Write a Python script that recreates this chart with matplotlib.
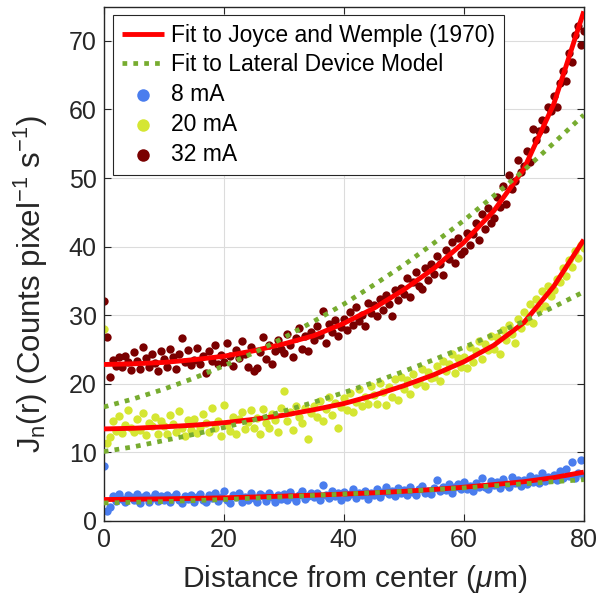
"""Radial emission profile J_n(r) for three drive currents with two model fits."""

import matplotlib
import matplotlib.pyplot as plt
import numpy as np

matplotlib.use("Agg")

plt.rcParams["font.family"] = ["Liberation Sans", "DejaVu Sans"]
plt.rcParams["mathtext.fontset"] = "custom"
plt.rcParams["mathtext.rm"] = "Liberation Sans"
plt.rcParams["mathtext.it"] = "Liberation Sans:italic"

# measured profiles, sampled every 0.5 um from 0 to 80 um
r_data = np.arange(161) * 0.5

j_8ma = [
    8.0, 1.5, 2.0, 3.6, 2.9, 3.9, 3.2, 2.7, 3.8, 3.4,
    3.0, 3.9, 2.6, 3.5, 3.8, 2.8, 3.3, 3.9, 2.9, 3.6,
    3.1, 3.7, 2.7, 3.4, 3.9, 3.0, 2.6, 3.6, 3.2, 3.8,
    2.8, 3.5, 3.9, 3.1, 2.7, 3.7, 3.3, 4.0, 2.9, 3.4,
    4.3, 3.0, 2.6, 3.8, 3.4, 4.1, 2.8, 3.5, 3.1, 4.0,
    3.3, 2.7, 3.9, 3.6, 2.9, 4.1, 3.4, 2.8, 3.7, 3.2,
    3.9, 3.0, 4.2, 3.5, 2.9, 3.8, 4.3, 3.2, 3.6, 4.0,
    3.4, 4.1, 3.0, 5.2, 3.7, 3.3, 4.4, 3.6, 4.0, 3.1,
    4.2, 3.5, 3.9, 4.6, 3.3, 4.0, 3.7, 4.4, 3.2, 4.1,
    3.8, 4.7, 3.5, 4.2, 5.0, 3.9, 4.4, 3.6, 4.8, 4.1,
    4.5, 3.8, 4.9, 4.2, 3.7, 4.6, 5.1, 4.0, 4.4, 3.9,
    4.8, 6.0, 4.3, 5.0, 4.5, 5.4, 4.1, 4.9, 5.3, 4.6,
    5.6, 4.7, 5.1, 4.4, 5.5, 4.9, 6.2, 5.0, 4.6, 5.8,
    5.2, 5.7, 4.8, 6.1, 5.4, 5.0, 6.4, 5.5, 5.9, 5.1,
    6.0, 5.4, 6.6, 5.7, 6.3, 5.5, 6.9, 5.8, 6.4, 6.1,
    6.7, 5.9, 7.2, 6.3, 7.5, 6.6, 8.6, 6.2, 7.0, 8.9,
    6.4,
]

j_20ma = [
    28.0, 11.4, 12.2, 14.6, 13.1, 15.3, 12.8, 14.0, 16.2, 13.5,
    12.9, 14.8, 13.3, 15.7, 12.5, 14.2, 13.8, 15.1, 12.7, 14.5,
    13.9, 12.6, 15.4, 14.1, 13.0, 16.0, 13.6, 12.4, 14.7, 13.2,
    14.9, 12.8, 13.7, 15.6, 14.3, 12.9, 16.4, 13.5, 14.6, 12.3,
    16.9, 14.0, 13.1, 15.2, 12.6, 14.8, 15.8, 13.4, 14.4, 16.1,
    13.6, 15.0, 12.7, 16.3, 14.2, 13.5, 15.6, 14.7, 12.9, 16.5,
    19.0, 14.6, 15.9, 13.3, 16.7, 15.2, 14.3, 16.4, 11.9, 15.7,
    16.8, 15.1, 17.5, 14.6, 16.3, 18.0, 15.5, 17.2, 13.6, 16.6,
    17.9, 16.2, 18.6, 15.8, 17.3, 19.2, 16.7, 18.1, 17.0, 19.6,
    18.4, 17.1, 20.1, 18.8, 16.9, 19.5, 18.0, 20.7, 17.6, 21.0,
    19.2, 20.6, 18.5, 21.4, 19.9, 20.3, 22.1, 19.6, 21.7, 20.8,
    21.0, 22.6, 20.4, 23.3, 21.8, 22.9, 24.4, 21.5, 23.8, 22.4,
    23.9, 22.3, 25.3, 23.1, 24.7, 26.2, 23.6, 25.8, 24.9, 27.0,
    25.1, 26.8, 24.4, 27.9, 26.3, 28.6, 27.2, 26.0, 29.4, 28.1,
    30.5, 29.1, 31.6, 28.8, 32.3, 30.9, 33.5, 31.4, 34.2, 32.8,
    33.6, 35.2, 34.8, 36.9, 35.7, 38.1, 37.0, 39.3, 38.4, 40.2,
    39.8,
]

j_32ma = [
    32.0, 26.8, 21.0, 23.5, 22.6, 23.9, 22.4, 24.1, 23.2, 22.0,
    24.6, 23.3, 22.1, 25.4, 23.7, 22.5, 24.3, 23.0, 21.9, 24.8,
    23.6, 22.4, 25.0, 23.9, 22.2, 24.4, 26.6, 23.1, 24.9, 22.7,
    23.4, 25.2, 22.8, 24.0, 21.6, 24.7, 23.3, 25.6, 22.9, 24.2,
    23.2, 25.9, 24.1, 22.6, 24.9, 23.7, 26.2, 24.3, 22.4, 25.3,
    21.8, 22.3, 24.6, 26.8, 23.6, 25.7, 22.9, 24.8, 26.3, 25.1,
    24.5, 27.2, 25.6, 23.9, 26.6, 28.1, 25.0, 26.9, 24.8, 27.5,
    26.3, 28.4, 27.1, 30.6, 26.0, 28.7, 27.6, 29.3, 26.9, 28.2,
    29.5, 27.8, 30.4, 28.6, 31.2, 29.1, 30.0, 28.4, 31.8, 30.3,
    31.5, 29.9, 32.4, 30.8, 33.0, 31.6, 29.8, 33.6, 32.2, 34.0,
    33.1, 35.4, 32.6, 34.9, 36.3, 34.2, 33.8, 36.9, 35.1, 37.4,
    36.0, 38.6, 37.4, 35.9, 39.5, 38.2, 40.6, 37.6, 41.3, 38.9,
    39.4, 42.0, 40.3, 41.8, 43.5, 41.0, 44.7, 42.6, 45.6, 43.4,
    44.1, 47.3, 45.8, 48.9, 46.2, 50.5, 48.4, 49.6, 52.6, 50.9,
    51.8, 53.9, 52.4, 57.2, 55.6, 56.9, 58.5, 57.1, 60.4, 59.8,
    61.9, 60.3, 63.8, 65.6, 64.2, 68.3, 66.9, 70.8, 72.1, 69.4,
    71.5,
]

# fitted curves, read every 5 um
r_fit = [0, 5, 10, 15, 20, 25, 30, 35, 40, 45, 50, 55, 60, 65, 70, 75, 80]

jw_8ma = [3.1, 3.15, 3.2, 3.27, 3.35, 3.47, 3.6, 3.74, 3.9, 4.08,
          4.3, 4.57, 4.9, 5.28, 5.7, 6.3, 7.1]
jw_20ma = [13.4, 13.5, 13.7, 13.95, 14.3, 14.8, 15.4, 16.2, 17.1, 18.3,
           19.7, 21.3, 23.2, 25.6, 28.9, 34.2, 41.0]
jw_32ma = [22.8, 22.9, 23.1, 23.5, 24.0, 24.8, 25.8, 27.0, 28.8, 31.0,
           33.7, 36.8, 40.6, 45.2, 51.3, 60.8, 74.3]

ldm_8ma = [2.6, 2.7, 2.8, 2.95, 3.1, 3.3, 3.5, 3.7, 3.9, 4.1,
           4.3, 4.55, 4.8, 5.1, 5.4, 5.7, 6.0]
ldm_20ma = [10.1, 10.8, 11.7, 12.6, 13.6, 14.7, 16.0, 17.3, 18.7, 20.2,
            21.8, 23.5, 25.3, 27.2, 29.1, 31.2, 33.4]
ldm_32ma = [16.6, 17.8, 19.2, 20.8, 22.6, 24.5, 26.7, 29.1, 31.6, 34.4,
            37.3, 40.5, 43.8, 47.4, 51.1, 55.1, 59.2]

labels = ["8 mA", "20 mA", "32 mA"]
colors = ["#4A7DEE", "#D5E633", "#7A0000"]


def main() -> None:
    fig = plt.figure(figsize=(6, 6), dpi=100)
    ax = fig.add_axes([0.173, 0.132, 0.8, 0.857])

    pts = []
    for y, lab, col in zip([j_8ma, j_20ma, j_32ma], labels, colors):
        pts.append(ax.scatter(r_data, y, s=36, color=col, linewidths=0,
                              label=lab, zorder=2))

    jw_line = None
    ldm_line = None
    for jw, ldm in zip([jw_8ma, jw_20ma, jw_32ma], [ldm_8ma, ldm_20ma, ldm_32ma]):
        (jw_line,) = ax.plot(r_fit, jw, color="#FF0000", linewidth=3.5,
                             solid_capstyle="butt", zorder=3)
        (ldm_line,) = ax.plot(r_fit, ldm, color="#77AC30", linewidth=3.4,
                              linestyle=(0, (1, 1.3)), zorder=4)

    ax.set_xlim(0, 80)
    ax.set_ylim(0, 75)
    ax.set_xticks([0, 20, 40, 60, 80])
    ax.set_yticks(range(0, 80, 10))
    ax.tick_params(direction="in", top=True, right=True, length=5,
                   labelsize=18, color="#262626", labelcolor="#262626", pad=5)
    for sp in ax.spines.values():
        sp.set_color("#262626")
        sp.set_linewidth(1.0)
    ax.grid(color="#DCDCDC", linewidth=0.8)
    ax.set_axisbelow(True)

    ax.set_xlabel(r"Distance from center ($\mu$m)", fontsize=21.5,
                  color="#262626")
    ax.set_ylabel(r"J$_\mathregular{n}$(r) (Counts pixel$^{-1}$ s$^{-1}$)",
                  fontsize=22.5, color="#262626")
    ax.xaxis.set_label_coords(0.522, -0.083)
    ax.yaxis.set_label_coords(-0.112, 0.46)

    leg = ax.legend(
        [jw_line, ldm_line] + pts,
        ["Fit to Joyce and Wemple (1970)", "Fit to Lateral Device Model"] + labels,
        loc="upper left",
        bbox_to_anchor=(0.019, 0.984),
        borderaxespad=0,
        fancybox=False,
        framealpha=1,
        edgecolor="#262626",
        fontsize=16.5,
        handlelength=1.85,
        handletextpad=0.3,
        markerscale=1.5,
        labelspacing=0.3,
        borderpad=0.38,
    )
    leg.get_frame().set_linewidth(0.8)

    fig.savefig("out.png", dpi=100)
    plt.close(fig)


if __name__ == "__main__":
    main()
